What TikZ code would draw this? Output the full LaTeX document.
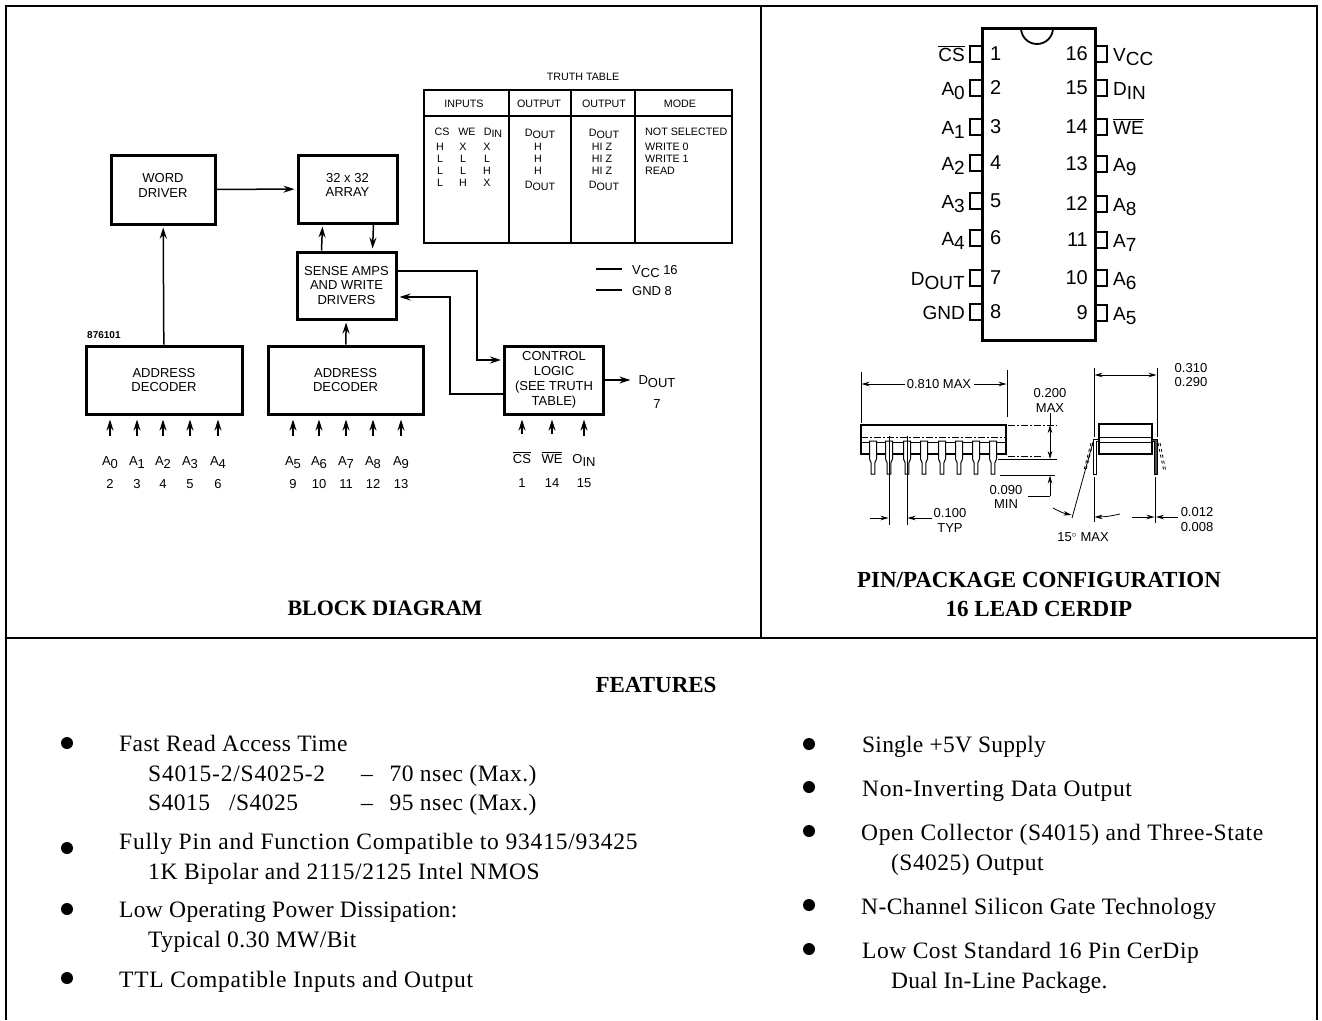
\documentclass[tikz,border=0pt]{standalone}
\usepackage{fontspec}
\setmainfont{Liberation Serif}
\newfontfamily\labelfont{Liberation Sans}
\newfontfamily\featurefont{Liberation Serif}
\usetikzlibrary{arrows.meta}
\newcommand{\lowtxt}[1]{\raisebox{-0.45ex}{#1}}
\newcommand{\barred}[1]{$\overline{\hbox{#1}}$}
\begin{document}
\begin{tikzpicture}[
  x=1pt,
  y=-1pt,
  block/.style={draw,line width=3pt,align=center,inner sep=0pt,font=\labelfont\fontsize{13}{14.8}\selectfont},
  sig/.style={line width=1.5pt,-{Stealth[length=11pt,width=7pt]}},
  wire/.style={line width=1.3pt},
  lbl/.style={anchor=base,inner sep=0pt,font=\labelfont\fontsize{13}{14}\selectfont},
  tbl/.style={anchor=base,inner sep=0pt,font=\labelfont\fontsize{10.7}{11}\selectfont},
  pinlbl/.style={inner sep=0pt,font=\labelfont\fontsize{19}{21}\selectfont},
  pinnum/.style={inner sep=0pt,font=\labelfont\fontsize{20}{21}\selectfont},
  pinbox/.style={draw,line width=1.8pt,minimum width=12,minimum height=16,inner sep=0pt},
  dim/.style={inner sep=0pt,align=center,font=\labelfont\fontsize{13}{14.5}\selectfont},
  thin line/.style={line width=0.8pt},
  dimarrow/.style={line width=0.8pt,-{Stealth[length=8pt,width=4.5pt]}},
  dimboth/.style={line width=0.8pt,{Stealth[length=8pt,width=4.5pt]}-{Stealth[length=8pt,width=4.5pt]}},
  dashdot/.style={line width=0.8pt,dash pattern=on 7pt off 2pt on 2pt off 2pt},
  title/.style={inner sep=0pt,align=center,font=\bfseries\fontsize{23}{29}\selectfont},
  feature/.style={anchor=base west,inner sep=0pt,font=\featurefont\fontsize{23.5}{26}\selectfont},
  bullet/.style={circle,fill,inner sep=0pt,minimum size=12}
]
\useasboundingbox (0,0) rectangle (1322,1020);
\draw[line width=2.8pt] (6,1020) -- (6,6) -- (1317,6) -- (1317,1020);
\draw[line width=2.8pt] (6,638) -- (1317,638);
\draw[line width=2.8pt] (761,6) -- (761,638);

\node[block,text depth=8,minimum width=104,minimum height=69] (worddriver) at (163,189.5) {WORD\\DRIVER};
\node[block,text depth=8,minimum width=99,minimum height=68] (array) at (347.5,189) {32 x 32\\ARRAY};
\node[block,minimum width=99,minimum height=67] (sense) at (346.5,285.5) {SENSE AMPS\\AND WRITE\\DRIVERS};
\node[block,minimum width=156,minimum height=68] (decoder1) at (164,380) {ADDRESS\\DECODER};
\node[block,minimum width=155,minimum height=68] (decoder2) at (345.5,380) {ADDRESS\\DECODER};
\node[block,minimum width=99,minimum height=68] (control) at (554,380) {CONTROL\\LOGIC\\(SEE TRUTH\\TABLE)};
\node[lbl,anchor=base west,font=\labelfont\bfseries\fontsize{10}{11}\selectfont] (partno) at (87,338) {876101};

\draw[sig,shorten >=2] (worddriver) -- (array);
\draw[sig,shorten >=2] (decoder1) -- (worddriver);
\draw[sig,shorten >=2] ([xshift=-25]sense.north) -- ([xshift=-25]array.south);
\draw[sig,shorten >=2] ([xshift=26]array.south) -- ([xshift=26]sense.north);
\draw[sig,shorten >=2] (decoder2) -- (sense);
\draw[sig,shorten >=2] ([yshift=14.5]sense.east) -- (477,271) |- ([yshift=20]control.west);
\draw[sig,shorten >=2] ([yshift=-14]control.west) -- (450,394) |- ([yshift=-11.5]sense.east);

\foreach \n/\xx/\pin in {0/110/2,1/137/3,2/163/4,3/190/5,4/218/6}{
  \node[lbl] (addr\n) at (\xx,465) {A\lowtxt{\n}};
  \node[lbl] (pin\pin) at (\xx,488) {\pin};
  \draw[sig,shorten <=20,shorten >=4] (addr\n) -- (addr\n |- decoder1.south);
}
\foreach \n/\xx/\pin in {5/293/9,6/319/10,7/346/11,8/373/12,9/401/13}{
  \node[lbl] (addr\n) at (\xx,465) {A\lowtxt{\n}};
  \node[lbl] (pin\pin) at (\xx,488) {\pin};
  \draw[sig,shorten <=20,shorten >=4] (addr\n) -- (addr\n |- decoder2.south);
}
\foreach \nm/\xx/\txt/\pin in {cs/522/\barred{CS}/1,we/552/\barred{WE}/14,din/584/O\lowtxt{IN}/15}{
  \node[lbl] (\nm) at (\xx,463) {\txt};
  \node[lbl] (pin\pin) at (\xx,487) {\pin};
  \draw[sig,shorten <=18,shorten >=4] (\nm) -- (\nm |- control.south);
}
\node[lbl] (dout) at (657,384) {D\lowtxt{OUT}};
\node[lbl] (pin7) at (657,408) {7};
\draw[sig,shorten >=8] (control.east) -- (dout.west |- control.east);

\node[tbl] (truth) at (583,80) {TRUTH TABLE};
\draw[line width=1.7pt] (424,90) rectangle (732,243);
\draw[line width=1.7pt] (424,116) -- (732,116);
\foreach \xx in {509,571,635}{
  \draw[line width=1.7pt] (\xx,90) -- (\xx,243);
}
\foreach \xx/\txt in {464/INPUTS,539/OUTPUT,604/OUTPUT,680/MODE}{
  \node[tbl] at (\xx,107) {\txt};
}
\foreach \xx/\yy/\txt in {
  442/135/CS,467/135/WE,493/135/D\lowtxt{IN},
  440/150/H,463/150/X,487/150/X,
  440/162/L,463/162/L,487/162/L,
  440/174/L,463/174/L,487/174/H,
  440/186/L,463/186/H,487/186/X,
  540/136/D\lowtxt{OUT},538/150/H,538/162/H,538/174/H,540/188/D\lowtxt{OUT},
  604/136/D\lowtxt{OUT},602/150/HI Z,602/162/HI Z,602/174/HI Z,604/188/D\lowtxt{OUT}}{
  \node[tbl] at (\xx,\yy) {\txt};
}
\foreach \yy/\txt in {135/NOT SELECTED,150/WRITE 0,162/WRITE 1,174/READ}{
  \node[tbl,anchor=base west] at (645,\yy) {\txt};
}
\node[lbl,anchor=base west] (vcc) at (632,274) {V\lowtxt{CC} 16};
\node[lbl,anchor=base west] (gnd) at (632,295) {GND 8};
\draw[wire] (596,269) -- (622,269);
\draw[wire] (596,290) -- (622,290);

\foreach \yy/\n/\txt in {54/1/\barred{CS},88/2/A\lowtxt{0},127/3/A\lowtxt{1},163/4/A\lowtxt{2},201/5/A\lowtxt{3},238/6/A\lowtxt{4},278/7/D\lowtxt{OUT},312/8/GND}{
  \node[pinbox] (ldip\n) at (976,\yy) {};
  \node[pinlbl,anchor=base east] at (965,\yy+7) {\txt};
}
\foreach \yy/\n/\txt in {54/16/V\lowtxt{CC},88/15/D\lowtxt{IN},127/14/\barred{WE},164/13/A\lowtxt{9},204/12/A\lowtxt{8},240/11/A\lowtxt{7},278/10/A\lowtxt{6},313/9/A\lowtxt{5}}{
  \node[pinbox] (rdip\n) at (1101,\yy) {};
  \node[pinlbl,anchor=base west] at (1113,\yy+7) {\txt};
}
\node[draw,fill=white,line width=3pt,minimum width=113,minimum height=312] (chip) at (1038.5,184) {};
\draw[line width=1.8pt] (1021,28) arc[start angle=180,end angle=0,radius=16];
\foreach \yy/\n in {54/1,88/2,127/3,163/4,201/5,238/6,278/7,312/8}{
  \node[pinnum,anchor=base west] at (990,\yy+6) {\n};
}
\foreach \yy/\n in {54/16,88/15,127/14,164/13,204/12,240/11,278/10,313/9}{
  \node[pinnum,anchor=base east] at (1088,\yy+6) {\n};
}

\draw[line width=1.5pt,fill=white] (861,425) rectangle (1006,454);
\draw[dashdot] (861,437) -- (1006,437);
\draw[thin line] (861,442) -- (1006,442);
\foreach \xx in {873,889,907,924,942,959,976,993}{
  \draw[line width=1pt,fill=white] (\xx-3.5,441) -- (\xx+3.5,441) -- (\xx+3.5,459) -- (\xx+1.8,463)
    -- (\xx+1.8,474) -- (\xx-1.8,474) -- (\xx-1.8,463) -- (\xx-3.5,459) -- cycle;
}
\draw[thin line] (889,436) -- (889,525);
\draw[thin line] (907,436) -- (907,525);
\draw[thin line] (861,372) -- (861,423);
\draw[thin line] (1007,370) -- (1007,417);
\node[dim] (len) at (939,384) {0.810 MAX};
\draw[dimarrow] (len) ++(-34,0) -- (861.5,384);
\draw[dimarrow] (len) ++(35,0) -- (1006.5,384);
\draw[dashdot] (1008,425) -- (1057,425);
\draw[dashdot] (1008,456) -- (1043,456);
\draw[thin line] (998,459) -- (1057,459);
\draw[thin line] (1000,475) -- (1055,475);
\node[dim] (height) at (1050,400.5) {0.200\\MAX};
\draw[thin line] (1050,413) -- (1050,425);
\draw[dimboth] (1050,425) -- (1050,459);
\node[dim] (seat) at (1006,497) {0.090\\MIN};
\draw[thin line] (1028,496) -- (1050,496);
\draw[dimarrow] (1050,496) -- (1050,475.5);
\node[dim] (pitch) at (950,520.5) {0.100\\TYP};
\draw[dimarrow] (870,518) -- (888.5,518);
\draw[dimarrow] (932,518) -- (907.5,518);

\draw[line width=1.5pt] (1099,424) rectangle (1152,454);
\draw[thin line] (1099,437) -- (1152,437);
\draw[thin line] (1099,442) -- (1152,442);
\draw[line width=1pt] (1099,439) -- (1093,439) -- (1093,474) -- (1096,474) -- (1096,441) -- (1099,441);
\draw[line width=1pt,fill=black!70] (1152,439) -- (1157,439) -- (1157,474) -- (1154,474) -- (1154,441) -- (1152,441);
\draw[thin line] (1094,368) -- (1094,437);
\draw[thin line] (1157,368) -- (1157,437);
\draw[dimboth] (1094.5,375) -- (1156.5,375);
\node[dim] (width) at (1191,375) {0.310\\0.290};
\draw[thin line,dashed] (1091,443) -- (1084,470);
\draw[thin line,dashed] (1093,443) -- (1086,470);
\draw[thin line,dashed] (1158,443) -- (1164,472);
\draw[thin line,dashed] (1160,443) -- (1166,472);
\draw[thin line] (1093,442) -- (1072,518);
\draw[dimarrow] (1053,508) to[bend right=8] (1071.5,515);
\node[dim] (angle) at (1083,537) {15$^{\circ}$ MAX};
\draw[thin line] (1094,477) -- (1094,522);
\draw[line width=1pt] (1155,477) -- (1155,523);
\draw[dimarrow] (1120,514) to[bend left=6] (1094.5,517);
\draw[dimarrow] (1132,517) -- (1154.5,517);
\draw[dimarrow] (1178,517) -- (1156,517);
\node[dim] (leadw) at (1197,519.5) {0.012\\0.008};

\node[title,font=\bfseries\fontsize{22}{29}\selectfont] (blocktitle) at (385,608) {BLOCK DIAGRAM};
\node[title] (pintitle) at (1039,594.5) {PIN/PACKAGE CONFIGURATION\\16 LEAD CERDIP};
\node[title] (features) at (656,685) {FEATURES};

\foreach \xx/\yy in {67/743,67/848,67/909,67/978,809/744,809/787,809/831,809/905,809/949}{
  \node[bullet] at (\xx,\yy) {};
}
\foreach \xx/\yy/\ls/\txt in {
  119/751/2/{Fast Read Access Time},
  148/781/3.4/{S4015-2/S4025-2},361/781/2/{–\ \ \kern4pt 70 nsec (Max.)},
  148/810/2/{S4015},229/810/2/{/S4025},361/810/2/{–\ \ \kern4pt 95 nsec (Max.)},
  119/849/3.4/{Fully Pin and Function Compatible to 93415/93425},
  148/879/2.7/{1K Bipolar and 2115/2125 Intel NMOS},
  119/917/1.5/{Low Operating Power Dissipation:},
  148/947/1.8/{Typical 0.30 MW/Bit},
  119/987/3.1/{TTL Compatible Inputs and Output},
  862/752/1/{Single +5V Supply},
  862/796/2.7/{Non-Inverting Data Output},
  861/840/2.7/{Open Collector (S4015) and Three-State},
  891/870/2/{(S4025) Output},
  861/914/1.9/{N-Channel Silicon Gate Technology},
  862/958/2.3/{Low Cost Standard 16 Pin CerDip},
  891/988/1/{Dual In-Line Package.}}{
  \node[feature] at (\xx,\yy) {\addfontfeature{LetterSpace=\ls}\txt};
}
\end{tikzpicture}
\end{document}
